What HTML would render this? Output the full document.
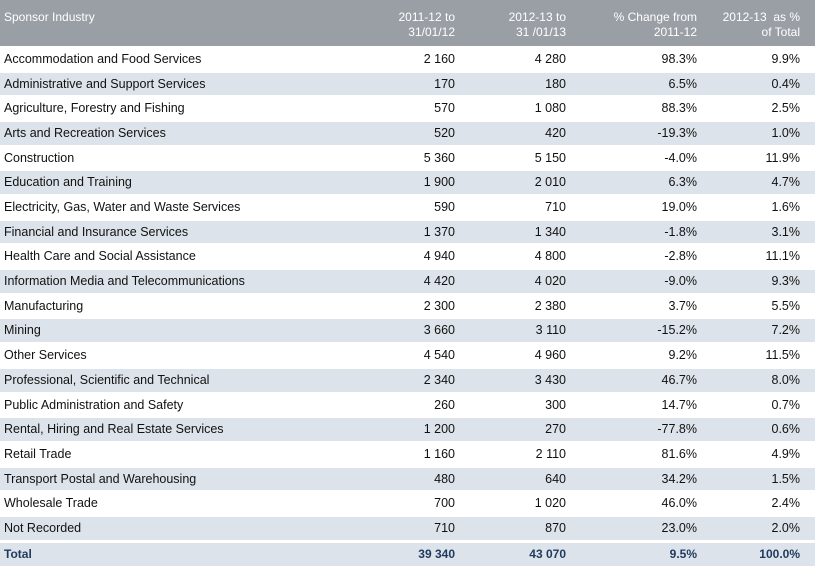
<!DOCTYPE html>
<html><head><meta charset="utf-8"><style>
body{margin:0;width:815px;height:569px;background:#fff;font-family:"Liberation Sans",Arial,sans-serif;position:relative;overflow:hidden}
.hdr{position:absolute;left:0;top:0;width:815px;height:46px;background:#9a9fa6;color:#fff;font-size:12px}
.hdr div{position:absolute;top:10px;line-height:15px}
.row{position:absolute;left:0;width:815px;font-size:12.5px;color:#111}
.row.alt{background:#dde3ea}
.row div{position:absolute;top:0;white-space:nowrap}
.c0{left:4px}.c1{right:360px;text-align:right}.c2{right:249px;text-align:right}.c3{right:118px;text-align:right}.c4{right:15px;text-align:right}
.total{font-weight:bold;color:#1f3a5f;font-size:12px}
</style></head><body>
<div class="hdr">
<div class="c0" style="left:4px">Sponsor Industry</div>
<div class="c1">2011-12 to<br>31/01/12</div>
<div class="c2">2012-13 to<br>31 /01/13</div>
<div class="c3">% Change from<br>2011-12</div>
<div class="c4">2012-13 &nbsp;as %<br>of Total</div>
</div>
<div id="body"></div>
<script>
const industries=["Accommodation and Food Services","Administrative and Support Services","Agriculture, Forestry and Fishing","Arts and Recreation Services","Construction","Education and Training","Electricity, Gas, Water and Waste Services","Financial and Insurance Services","Health Care and Social Assistance","Information Media and Telecommunications","Manufacturing","Mining","Other Services","Professional, Scientific and Technical","Public Administration and Safety","Rental, Hiring and Real Estate Services","Retail Trade","Transport Postal and Warehousing","Wholesale Trade","Not Recorded"];
const v2011=["2 160","170","570","520","5 360","1 900","590","1 370","4 940","4 420","2 300","3 660","4 540","2 340","260","1 200","1 160","480","700","710"];
const v2012=["4 280","180","1 080","420","5 150","2 010","710","1 340","4 800","4 020","2 380","3 110","4 960","3 430","300","270","2 110","640","1 020","870"];
const pctChange=["98.3%","6.5%","88.3%","-19.3%","-4.0%","6.3%","19.0%","-1.8%","-2.8%","-9.0%","3.7%","-15.2%","9.2%","46.7%","14.7%","-77.8%","81.6%","34.2%","46.0%","23.0%"];
const pctTotal=["9.9%","0.4%","2.5%","1.0%","11.9%","4.7%","1.6%","3.1%","11.1%","9.3%","5.5%","7.2%","11.5%","8.0%","0.7%","0.6%","4.9%","1.5%","2.4%","2.0%"];
const totalRow=["Total","39 340","43 070","9.5%","100.0%"];
const b=document.getElementById('body');
function mk(vals,top,h,cls){
  const r=document.createElement('div');
  r.className='row '+cls;
  r.style.top=top+'px';r.style.height=h+'px';r.style.lineHeight=h+'px';
  
  
  vals.forEach((v,j)=>{const c=document.createElement('div');c.className='c'+j;c.textContent=v;
    
    
    r.appendChild(c);});
  b.appendChild(r);
}
const rh=24.68;
industries.forEach((n,i)=>{
  const top=47+rh*i;
  if(i%2==1) mk([n,v2011[i],v2012[i],pctChange[i],pctTotal[i]],top+1,rh-2,'alt');
  else mk([n,v2011[i],v2012[i],pctChange[i],pctTotal[i]],top,rh,'');
});
mk(totalRow,543,23,'alt total');
</script>
</body></html>
